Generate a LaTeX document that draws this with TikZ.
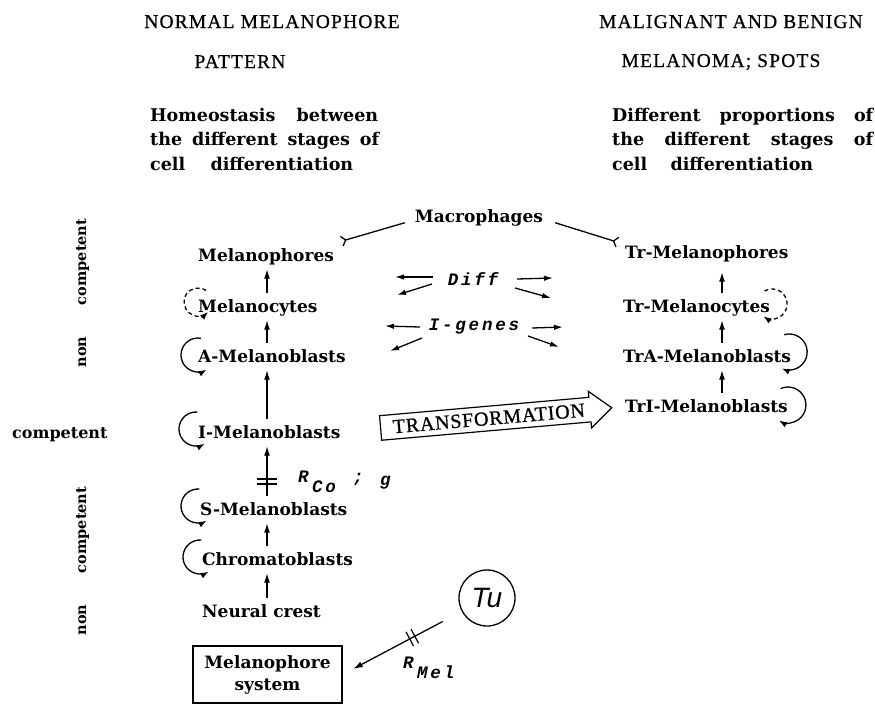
\documentclass[tikz,border=0pt]{standalone}
\usepackage{fontspec}
\setmainfont{DejaVu Serif}
\newfontfamily\headfont{Liberation Serif}[LetterSpace=6,FakeBold=0.6]
\newfontfamily\trfont{Liberation Serif}[LetterSpace=4,FakeBold=0.8]
\newfontfamily\itfont{Liberation Mono}[LetterSpace=16]
\newfontfamily\tufont{Liberation Sans}
\usetikzlibrary{arrows.meta,shapes.arrows,calc}
\begin{document}
\begin{tikzpicture}[x=1pt,y=-1pt,
  cell/.style={font=\fontsize{17}{20}\selectfont\bfseries, inner sep=1pt, text height=12.5pt, text depth=4pt},
  arr/.style={line width=1.3pt, -{Latex[length=9.5pt,width=6pt]}},
  varr/.style={arr, shorten <=5pt, shorten >=3pt},
  sarr/.style={line width=1.3pt, -{Latex[length=9pt,width=5.5pt]}},
  lloop/.style={line width=1.3pt, -{Latex[length=8pt,width=6pt]}},
  dloop/.style={lloop, dash pattern=on 4pt off 3pt},
  fork/.style={line width=1.3pt, -{Straight Barb[reversed,length=4pt,width=10pt]}},
  desc/.style={font=\fontsize{17.5}{20}\selectfont\bfseries, inner sep=0pt, anchor=base west},
  head/.style={font=\headfont\fontsize{19.5}{22}\selectfont, inner sep=0pt, anchor=base},
  lab/.style={font=\fontsize{16}{19}\selectfont\bfseries, inner sep=0pt},
  rotlab/.style={font=\fontsize{14.5}{17}\selectfont\bfseries, inner sep=0pt, rotate=90, anchor=base},
  itl/.style={font=\itfont\bfseries\itshape\fontsize{17.5}{20}\selectfont, inner sep=0pt}
]
\useasboundingbox (0,0) rectangle (875,705);
\fill[white] (0,0) rectangle (875,705);

% headers
\node[head] (h1) at (272,28) {NORMAL MELANOPHORE};
\node[head] (h2) at (240,68) {PATTERN};
\node[head] (h3) at (731,28) {MALIGNANT AND BENIGN};
\node[head] (h4) at (721,67) {MELANOMA; SPOTS};
\node[desc] (dl1) at (150,121) {\hbox to 228pt{Homeostasis\hfill between}};
\node[desc] (dl2) at (150,145) {\hbox to 229pt{the\hfill different\hfill stages\hfill of}};
\node[desc] (dl3) at (150,170) {\hbox to 203pt{cell\hfill differentiation}};
\node[desc] (dr1) at (612,121) {\hbox to 261pt{Different\hfill proportions\hfill of}};
\node[desc] (dr2) at (612,145) {\hbox to 261pt{the\hfill different\hfill stages\hfill of}};
\node[desc] (dr3) at (612,170) {\hbox to 201pt{cell\hfill differentiation}};

% side labels
\node[rotlab] (lc1) at (86,262) {competent};
\node[rotlab] (ln1) at (86,352) {non};
\node[lab, anchor=base west] (lc) at (12,438) {competent};
\node[rotlab] (lc2) at (86,530) {competent};
\node[rotlab] (ln2) at (86,620) {non};

% column axes
\coordinate (colL) at (267,0);
\coordinate (colR) at (722,0);

% cells
\node[cell, anchor=base] (mac) at (479,222) {Macrophages};
\node[cell, anchor=base west] (mph) at (197,261) {Melanophores};
\node[cell, anchor=base west] (mcy) at (197,312) {Melanocytes};
\node[cell, anchor=base west] (amel) at (197,362) {A-Melanoblasts};
\node[cell, anchor=base west] (imel) at (197,438) {I-Melanoblasts};
\node[cell, anchor=base west] (smel) at (199,515) {S-Melanoblasts};
\node[cell, anchor=base west] (chrom) at (201,565) {Chromatoblasts};
\node[cell, anchor=base west] (nc) at (201,617) {Neural crest};
\node[cell, anchor=base west] (trmph) at (624,258) {Tr-Melanophores};
\node[cell, anchor=base west] (trmcy) at (622,312) {Tr-Melanocytes};
\node[cell, anchor=base west] (tra) at (622,362) {TrA-Melanoblasts};
\node[cell, anchor=base west] (tri) at (624,412) {TrI-Melanoblasts};

% vertical arrows
\draw[varr] (mcy.north -| colL) -- (mph.south -| colL);
\draw[varr] (amel.north -| colL) -- (mcy.south -| colL);
\draw[varr] (imel.north -| colL) -- (amel.south -| colL);
\draw[varr] (smel.north -| colL) -- (imel.south -| colL);
\draw[varr] (chrom.north -| colL) -- (smel.south -| colL);
\draw[varr] (nc.north -| colL) -- (chrom.south -| colL);
\draw[varr, shorten >=9pt] (trmcy.north -| colR) -- (trmph.south -| colR);
\draw[varr] (tra.north -| colR) -- (trmcy.south -| colR);
\draw[varr] (tri.north -| colR) -- (tra.south -| colR);

% double bar on S -> I
\draw[line width=1.2pt] ($(smel.base -| colL)+(-10,-36)$) -- ++(20,0);
\draw[line width=1.2pt] ($(smel.base -| colL)+(-10,-31)$) -- ++(20,0);

% self loops left
\draw[dloop] ($(mcy.base west)+(1,-10)+(55:14pt)$) arc[start angle=55,end angle=315,radius=14pt];
\draw[lloop] ($(amel.base west)+(1,-7)+(80:17pt)$) arc[start angle=80,end angle=300,radius=17pt];
\draw[lloop] ($(imel.base west)+(-1,-9)+(85:17pt)$) arc[start angle=85,end angle=300,radius=17pt];
\draw[lloop] ($(smel.base west)+(-1,-9)+(85:17pt)$) arc[start angle=85,end angle=300,radius=17pt];
\draw[lloop] ($(chrom.base west)+(-1,-8)+(85:17pt)$) arc[start angle=85,end angle=300,radius=17pt];
% self loops right
\draw[dloop] ($(trmcy.base east)+(1,-8)+(120:15pt)$) arc[start angle=120,end angle=-125,radius=15pt];
\draw[lloop] ($(tra.base east)+(-3,-10)+(106:18pt)$) arc[start angle=106,end angle=-114,radius=18pt];
\draw[lloop] ($(tri.base east)+(-1,-7)+(114:18pt)$) arc[start angle=114,end angle=-120,radius=18pt];

% macrophage connectors
\draw[fork] ($(mac.west)+(-9,5)$) -- ($(mph.north east)+(6,-6)$);
\draw[fork] ($(mac.east)+(11,5)$) -- ($(trmph.north west)+(-6,-2)$);

% Diff / I-genes
\node[itl, anchor=base] (diff) at (473,285) {Diff};
\node[itl, anchor=base] (igen) at (474,330) {I-genes};
\draw[sarr] ($(diff.base)+(-40,-8)$) -- ++(-38,0);
\draw[sarr] ($(diff.base)+(-41,-1)$) -- ++(-35,11);
\draw[sarr] ($(diff.base)+(44,-6)$) -- ++(36,-1);
\draw[sarr] ($(diff.base)+(42,3)$) -- ++(36,10);
\draw[sarr] ($(igen.base)+(-54,-3)$) -- ++(-35,-1);
\draw[sarr] ($(igen.base)+(-52,8)$) -- ++(-32,13);
\draw[sarr] ($(igen.base)+(58,-2)$) -- ++(31,-1);
\draw[sarr] ($(igen.base)+(54,6)$) -- ++(31,11);

% R_Co ; g
\node[itl, anchor=base west] (rco) at (298,482) {R};
\node[itl, anchor=base west] (rcosub) at (312,492) {Co};
\node[itl, anchor=base west] (semi) at (353,482) {;};
\node[itl, anchor=base west] (gg) at (380,485) {g};

% transformation arrow
\node[single arrow, draw, line width=1.2pt, single arrow head extend=6pt,
      single arrow tip angle=80, minimum height=232pt, inner xsep=4pt, inner ysep=5pt,
      anchor=tail, rotate=5, font=\trfont\fontsize{20}{22}\selectfont] (tf) at (380,428) {TRANSFORMATION};

% melanophore system and Tu
\node[draw, line width=1.2pt, minimum width=149pt, minimum height=57pt, inner sep=0pt,
      align=center, font=\fontsize{17}{22}\selectfont\bfseries] (msys) at (267.5,674.5) {Melanophore\\system};
\node[circle, draw, line width=1.3pt, minimum size=56pt, inner sep=0pt,
      font=\tufont\itshape\fontsize{28}{30}\selectfont] (tu) at (487,598) {Tu};
\draw[arr, shorten <=50pt, shorten >=12pt] (tu.center) -- (msys.east);
\coordinate (k1) at ($(tu.center)!0.50!(msys.east)$);
\coordinate (k2) at ($(tu.center)!0.535!(msys.east)$);
\draw[line width=1.2pt] ($(k1)!8pt!90:(tu.center)$) -- ($(k1)!8pt!-90:(tu.center)$);
\draw[line width=1.2pt] ($(k2)!8pt!90:(tu.center)$) -- ($(k2)!8pt!-90:(tu.center)$);
\node[itl, anchor=base west] (rmel) at (403,668) {R};
\node[itl, anchor=base west] (rmelsub) at (417,678) {Mel};
\end{tikzpicture}
\end{document}
